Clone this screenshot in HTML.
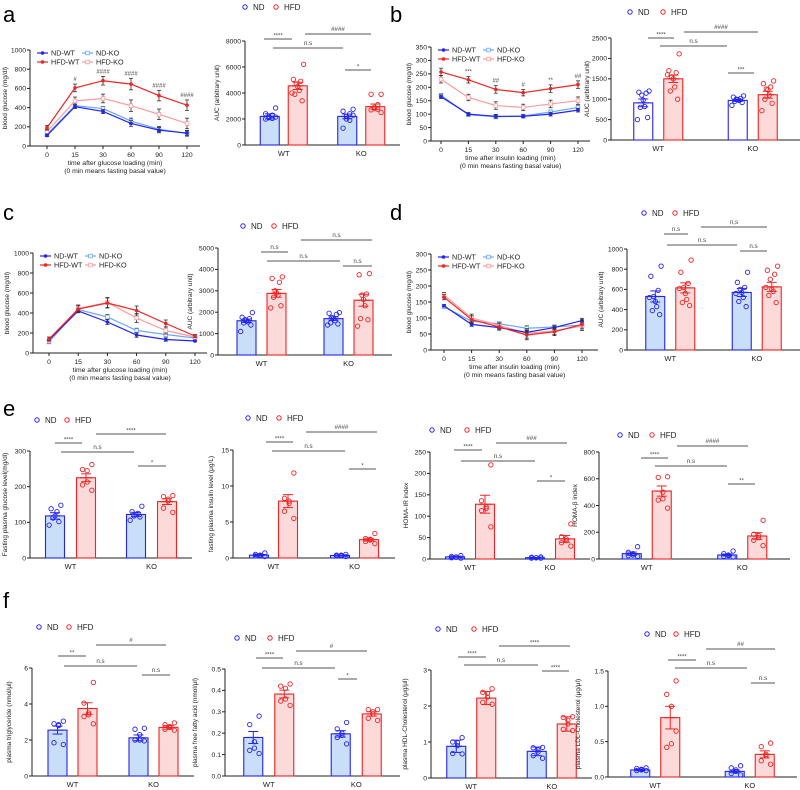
<!DOCTYPE html>
<html><head><meta charset="utf-8">
<style>
html,body{margin:0;padding:0;background:#fff;}
svg{display:block;font-family:"Liberation Sans",Arial,sans-serif;}
</style></head>
<body>
<svg id="fig" width="800" height="790" viewBox="0 0 800 790" xmlns="http://www.w3.org/2000/svg"></svg>
<script>
// ---------- DATA ----------
const timeCats = ["0","15","30","60","90","120"];
const seriesNames = ["ND-WT","ND-KO","HFD-WT","HFD-KO"];
// panel a (GTT)
const aNDWT = [110,410,360,235,165,135];
const aNDKO = [120,420,390,260,175,130];
const aHFDWT = [190,605,680,645,525,425];
const aHFDKO = [150,470,495,420,330,235];
const aErr = [25,40,45,60,55,55];
const aMarks = ["","#","####","####","####","####"];
// panel b (ITT)
const bNDWT = [165,100,92,92,100,115];
const bNDKO = [170,98,90,93,108,125];
const bHFDWT = [257,228,192,180,195,210];
const bHFDKO = [230,162,132,125,138,150];
const bErr = [14,12,14,12,14,14];
const bMarks = ["","***","##","#","**","##"];
// panel c
const cNDWT = [130,420,310,180,135,120];
const cNDKO = [110,435,360,225,185,150];
const cHFDWT = [140,440,500,425,295,170];
const cHFDKO = [120,445,505,350,225,160];
const cErr = [20,35,50,45,35,15];
// panel d
const dNDWT = [138,80,70,55,70,92];
const dNDKO = [135,90,82,68,72,78];
const dHFDWT = [165,95,72,47,57,80];
const dHFDKO = [172,100,77,52,60,75];
const dErr = [8,12,10,15,12,14];

const groups = ["WT","KO"];
const aAucMean = [2200,4550,2200,2950];
const aAucErr = [200,280,180,200];
const aAucDots = [[2850,2400,2300,2200,2100,2050,2000,2150],[6200,5050,4900,4700,4500,4200,3900,3400,4000],[2750,2600,2400,2200,2000,1900,1300,2300],[3900,3900,3100,2900,2800,2750,2700,2500]];
const bAucMean = [910,1500,970,1110];
const bAucErr = [95,90,25,85];
const bAucDots = [[1200,1170,1150,1100,980,820,800,550,500],[2110,1700,1650,1550,1500,1300,1200,1000,1600],[1080,1050,1020,1000,990,970,950,920,850],[1450,1380,1300,1250,1230,1100,1000,900,720]];
const cAucMean = [1600,2880,1700,2560];
const cAucErr = [80,180,80,280];
const cAucDots = [[1980,1760,1700,1650,1600,1550,1500,1400,1100],[3650,3580,3400,3000,2900,2800,2700,2300,2200],[1980,1950,1900,1750,1700,1600,1500,1450,1400],[3800,3750,2850,2800,2600,2300,1700,1650,1350]];
const dAucMean = [530,615,570,625];
const dAucErr = [55,50,40,45];
const dAucDots = [[830,730,590,530,480,430,390,350,520],[890,770,660,620,560,500,470,440,610],[770,670,620,600,570,520,480,430,560],[830,790,750,700,600,580,540,470,620]];
const e1Mean = [118,225,122,158];
const e1Err = [9,11,6,8];
const e1Dots = [[148,138,130,118,112,102,92],[262,248,245,213,205,190],[145,130,125,122,118,115,106],[175,172,165,160,140,128]];
const e2Mean = [0.4,7.9,0.35,2.55];
const e2Err = [0.1,0.9,0.05,0.2];
const e2Dots = [[0.7,0.5,0.4,0.3,0.3,0.2],[11.8,8.3,7.9,7.6,6.5,5.5],[0.5,0.4,0.4,0.3,0.3,0.2],[3.4,2.7,2.6,2.5,2.3,2.0]];
const e3Mean = [5,128,3,47];
const e3Err = [1,21,0.5,8];
const e3Dots = [[8,6,5,4,3,2],[220,136,122,118,113,75],[5,4,3,3,2,2],[82,52,47,43,38,30]];
const e4Mean = [40,508,30,172];
const e4Err = [12,38,7,25];
const e4Dots = [[92,50,40,30,25,20],[615,610,500,450,440,380],[60,40,30,25,20,15],[290,185,175,160,140,100]];
const f1Mean = [2.55,3.75,2.12,2.7];
const f1Err = [0.22,0.32,0.16,0.1];
const f1Dots = [[3.05,2.9,2.85,2.8,1.85,1.75],[5.2,4.05,3.5,3.4,3.3,2.9],[2.65,2.6,2.3,2.0,2.0,1.95],[2.95,2.85,2.75,2.7,2.6,2.55]];
const f2Mean = [0.18,0.383,0.197,0.29];
const f2Err = [0.028,0.018,0.015,0.01];
const f2Dots = [[0.28,0.24,0.16,0.13,0.12,0.105],[0.43,0.42,0.41,0.36,0.35,0.33],[0.25,0.22,0.2,0.19,0.18,0.15],[0.31,0.31,0.3,0.29,0.27,0.26]];
const f3Mean = [0.88,2.22,0.74,1.5];
const f3Err = [0.17,0.18,0.12,0.2];
const f3Dots = [[1.12,1.0,0.98,0.9,0.68,0.67],[2.48,2.38,2.35,2.25,2.1,2.05],[0.85,0.84,0.78,0.72,0.62,0.55],[1.7,1.68,1.6,1.5,1.35,1.32]];
const f4Mean = [0.1,0.84,0.08,0.32];
const f4Err = [0.012,0.16,0.02,0.05];
const f4Dots = [[0.13,0.12,0.11,0.1,0.09,0.09],[1.36,1.17,1.0,0.47,0.42,0.65],[0.16,0.13,0.1,0.08,0.05,0.03],[0.48,0.43,0.32,0.3,0.23,0.18]];

// ---------- DRAWING ----------
const NS="http://www.w3.org/2000/svg";
const svg=document.getElementById('fig');
function el(tag,attrs,parent,txt){const e=document.createElementNS(NS,tag);for(const k in attrs)e.setAttribute(k,attrs[k]);if(txt!==undefined)e.textContent=txt;(parent||svg).appendChild(e);return e;}
const BLUE="#2424f0",RED="#f02424",LBLUE="#6aa8ff",LRED="#ff9a9a",FB="#c9def8",FR="#fddada",GR="#444";

function panelLabel(t,x,y){const e=el('text',{x:x,y:y,'font-size':22,fill:'#000'},svg,t);

}

function yAxis(g,p,title){
  const sc=v=>p.y0-(v/p.ymax)*(p.y0-p.y1);
  const ax=el('line',{x1:p.ax,x2:p.ax,y1:p.y1,y2:p.y0,stroke:'#222','stroke-width':1},g);
  
  
  const xa=el('line',{x1:p.ax,x2:p.axEnd,y1:p.y0,y2:p.y0,stroke:'#222','stroke-width':1},g);
  
  
  p.ticks.forEach(t=>{const y=sc(t);
    el('line',{x1:p.ax-3,x2:p.ax,y1:y,y2:y,stroke:'#222','stroke-width':1},g);
    const tl=el('text',{x:p.ax-4,y:y+2.3,'font-size':6.8,'text-anchor':'end',fill:'#222'},g,p.fmt?p.fmt(t):t);
    
    
  });
  const tx=p.ax-(p.titleOff||24), ty=(p.y0+p.y1)/2;
  const tt=el('text',{x:tx,y:ty,'font-size':6.5,'text-anchor':'middle',fill:'#222',transform:`rotate(-90 ${tx} ${ty})`},g,title);
  
  
  return sc;
}

function linePanel(name,p,series,errs,marks,title,xtitle){
  const g=el('g',{},svg);
  
  
  const sc=yAxis(g,p,title);
  const xs=i=>p.xFirst+i*(p.xLast-p.xFirst)/(timeCats.length-1);
  timeCats.forEach((c,i)=>{el('line',{x1:xs(i),x2:xs(i),y1:p.y0,y2:p.y0+3,stroke:'#222'},g);
    const t=el('text',{x:xs(i),y:p.y0+11,'font-size':6.8,'text-anchor':'middle',fill:'#222'},g,c);
    
    });
  const mid=(p.ax+p.axEnd)/2;
  const xt1=el('text',{x:mid,y:p.y0+19,'font-size':6.8,'text-anchor':'middle',fill:'#222'},g,xtitle);
  
  
  const xt2=el('text',{x:mid,y:p.y0+27,'font-size':6.8,'text-anchor':'middle',fill:'#222'},g,'(0 min means fasting basal value)');
  
  
  const cols=[BLUE,LBLUE,RED,LRED];
  const order=[1,3,0,2];
  order.forEach(si=>{const vals=series[si];const col=cols[si];
    const pts=vals.map((v,i)=>xs(i)+','+sc(v)).join(' ');
    const pl=el('polyline',{points:pts,fill:'none',stroke:col,'stroke-width':1.2},g);
    
    
    vals.forEach((v,i)=>{const e=errs[i]*(si>=2?1:0.5);const x=xs(i),y=sc(v);
      el('line',{x1:x,x2:x,y1:sc(v+e),y2:sc(Math.max(0,v-e)),stroke:'#333','stroke-width':0.8},g);
      el('line',{x1:x-2,x2:x+2,y1:sc(v+e),y2:sc(v+e),stroke:'#333','stroke-width':0.8},g);
      el('line',{x1:x-2,x2:x+2,y1:sc(Math.max(0,v-e)),y2:sc(Math.max(0,v-e)),stroke:'#333','stroke-width':0.8},g);
      let m;
      if(si%2===0){m=el('circle',{cx:x,cy:y,r:1.8,fill:col},g);}
      else{m=el('rect',{x:x-1.8,y:y-1.8,width:3.6,height:3.6,fill:'#fff',stroke:col,'stroke-width':0.8},g);}
      
      
    });
  });
  if(marks){marks.forEach((m,i)=>{if(!m)return;const v=series[2][i]+errs[i];
    const t=el('text',{x:xs(i),y:sc(v)-3,'font-size':6,'text-anchor':'middle',fill:GR},g,m);
    
    });}
  const L=[[0,0,0],[1,1,0],[2,0,1],[3,1,1]];
  L.forEach(([si,c,r])=>{const lx=p.ax+7+c*45, ly=p.y1+3+r*9;
    el('line',{x1:lx,x2:lx+11,y1:ly,y2:ly,stroke:cols[si],'stroke-width':1.2},g);
    if(si%2===0)el('circle',{cx:lx+5.5,cy:ly,r:1.8,fill:cols[si]},g);else el('rect',{x:lx+3.7,y:ly-1.8,width:3.6,height:3.6,fill:'#fff',stroke:cols[si],'stroke-width':0.8},g);
    const t=el('text',{x:lx+14,y:ly+2.5,'font-size':7.2,fill:'#222'},g,seriesNames[si]);
    
    });
}

function barPanel(name,p,means,errs,dots,title,sigs,legend,ndWhite){
  const g=el('g',{},svg);
  
  
  const sc=yAxis(g,p,title);
  const W=p.axEnd-p.ax;
  const gc=gi=>p.ax+W*(0.25+0.5*gi);
  const bx=i=>gc(Math.floor(i/2))+(i%2===0?-1:1)*p.off;
  groups.forEach((gname,gi)=>{
    const t=el('text',{x:gc(gi),y:p.y0+11,'font-size':7.5,'text-anchor':'middle',fill:'#222'},g,gname);
    
    });
  const bw=p.bw||19;
  means.forEach((m,i)=>{const col=i%2?RED:BLUE;const fill=i%2?FR:(ndWhite?'#fff':FB);
    const x=bx(i);
    const r=el('rect',{x:x-bw/2,y:sc(m),width:bw,height:p.y0-sc(m),fill:fill,stroke:col,'stroke-width':1.1},g);
    
    
    dots[i].forEach((v,j)=>{const n=dots[i].length;const dx=(j-(n-1)/2)*(bw-6)/Math.max(1,n-1)*((j%2)?1:-1)*0.9;
      const d=el('circle',{cx:x+dx,cy:sc(v),r:2.2,fill:'none',stroke:col,'stroke-width':0.9},g);
      
      });
    const e=errs[i];
    el('line',{x1:x,x2:x,y1:sc(m+e),y2:sc(Math.max(0,m-e)),stroke:col,'stroke-width':1},g);
    el('line',{x1:x-5,x2:x+5,y1:sc(m+e),y2:sc(m+e),stroke:col,'stroke-width':1},g);
    el('line',{x1:x-5,x2:x+5,y1:sc(Math.max(0,m-e)),y2:sc(Math.max(0,m-e)),stroke:col,'stroke-width':1},g);
    el('line',{x1:x-6,x2:x+6,y1:sc(m),y2:sc(m),stroke:col,'stroke-width':1.1},g);
  });
  sigs.forEach(([x1,x2,y,lab])=>{
    const l=el('line',{x1:x1,x2:x2,y1:y,y2:y,stroke:'#555','stroke-width':0.9},g);
    
    
    const t=el('text',{x:(x1+x2)/2,y:y-(lab.startsWith('*')?1.5:3),'font-size':lab.startsWith('*')?6:6.2,'text-anchor':'middle',fill:GR},g,lab);
    
    });
  const [lx,ly,gap]=legend;
  const c1=el('circle',{cx:lx,cy:ly,r:2.2,fill:'none',stroke:BLUE,'stroke-width':1},g);
  
  const t1=el('text',{x:lx+8,y:ly+3,'font-size':8,fill:'#222'},g,'ND');
  
  const c2=el('circle',{cx:lx+gap,cy:ly,r:2.2,fill:'none',stroke:RED,'stroke-width':1},g);
  
  const t2=el('text',{x:lx+gap+8,y:ly+3,'font-size':8,fill:'#222'},g,'HFD');
  
}

panelLabel('a',3,22);panelLabel('b',390,22);panelLabel('c',3,220);panelLabel('d',390,220);panelLabel('e',3,416);panelLabel('f',3,608);

linePanel('panel-a-gtt',{ax:30,axEnd:200,y0:146,y1:50,ymax:1000,ticks:[0,200,400,600,800,1000],xFirst:47,xLast:187,titleOff:23},[aNDWT,aNDKO,aHFDWT,aHFDKO],aErr,aMarks,'blood glucose (mg/dl)','time after glucose loading (min)');
barPanel('panel-a-auc',{ax:245,axEnd:400,y0:145,y1:41,ymax:8000,ticks:[0,2000,4000,6000,8000],off:14,titleOff:26},aAucMean,aAucErr,aAucDots,'AUC (arbitrary unit)',[[264,292,39,'****'],[305,371,34,'####'],[273,343,48,'n.s'],[345,371,70,'*']],[245,7,31]);
linePanel('panel-b-itt',{ax:431,axEnd:590,y0:141,y1:47,ymax:350,ticks:[0,50,100,150,200,250,300,350],xFirst:441,xLast:578,titleOff:20},[bNDWT,bNDKO,bHFDWT,bHFDKO],bErr,bMarks,'blood glucose (mg/dl)','time after insulin loading (min)');
barPanel('panel-b-auc',{ax:611,axEnd:800,y0:140,y1:38,ymax:2500,ticks:[0,500,1000,1500,2000,2500],off:15,titleOff:22},bAucMean,bAucErr,bAucDots,'AUC (arbitrary unit)',[[648,674,38,'****'],[684,758,32,'####'],[660,727,46,'n.s'],[728,754,73,'***']],[630,12,33],true);
linePanel('panel-c-gtt',{ax:33,axEnd:207,y0:353,y1:253,ymax:1000,ticks:[0,200,400,600,800,1000],xFirst:49,xLast:195,titleOff:24},[cNDWT,cNDKO,cHFDWT,cHFDKO],cErr,null,'blood glucose (mg/dl)','time after glucose loading (min)');
barPanel('panel-c-auc',{ax:218,axEnd:392,y0:355,y1:248,ymax:5000,ticks:[0,1000,2000,3000,4000,5000],off:15,titleOff:26},cAucMean,cAucErr,cAucDots,'AUC (arbitrary unit)',[[261,288,252,'n.s'],[301,372,240,'n.s'],[267,340,261,'n.s'],[343,372,266,'n.s']],[243,226,31]);
linePanel('panel-d-itt',{ax:431,axEnd:598,y0:350,y1:254,ymax:300,ticks:[0,50,100,150,200,250,300],xFirst:444,xLast:582,titleOff:20},[dNDWT,dNDKO,dHFDWT,dHFDKO],dErr,null,'blood glucose (mg/dl)','time after insulin loading (min)');
barPanel('panel-d-auc',{ax:627,axEnd:800,y0:350,y1:249,ymax:1000,ticks:[0,200,400,600,800,1000],off:15,titleOff:24},dAucMean,dAucErr,dAucDots,'AUC (arbitrary unit)',[[664,688,234,'n.s'],[701,767,227,'n,s'],[667,737,245,'n.s'],[740,767,251,'n.s']],[644,213,31]);
barPanel('panel-e-glucose',{ax:30,axEnd:192,y0:558,y1:451,ymax:300,ticks:[0,100,200,300],off:15.5,titleOff:23},e1Mean,e1Err,e1Dots,'Fasting plasma glucose level(mg/dl)',[[55,82,443,'****'],[96,166,434,'****'],[61,134,452,'n.s'],[138,166,466,'*']],[37,420,30]);
barPanel('panel-e-insulin',{ax:233,axEnd:395,y0:558,y1:450,ymax:15,ticks:[0,5,10,15],off:14.5,titleOff:20},e2Mean,e2Err,e2Dots,'fasting plasma insulin level (μg/L)',[[266,293,442,'****'],[306,377,432,'####'],[272,345,451,'n.s'],[349,376,469,'*']],[248,418,31]);
barPanel('panel-e-homa-ir',{ax:430,axEnd:590,y0:559,y1:452,ymax:250,ticks:[0,50,100,150,200,250],off:15,titleOff:22},e3Mean,e3Err,e3Dots,'HOMA-IR index',[[454,482,450,'****'],[496,567,443,'###'],[461,535,461,'n.s'],[537,565,481,'*']],[432,430,35]);
barPanel('panel-e-homa-b',{ax:599,axEnd:790,y0:559,y1:452,ymax:800,ticks:[0,200,400,600,800],off:15,titleOff:22},e4Mean,e4Err,e4Dots,'HOMA-β index',[[641,668,458,'****'],[677,748,446,'####'],[655,727,466,'n.s'],[728,755,484,'**']],[620,435,32]);
barPanel('panel-f-tg',{ax:32,axEnd:194,y0:776,y1:668,ymax:6,ticks:[0,2,4,6],off:15,titleOff:21},f1Mean,f1Err,f1Dots,'plasma triglyceride (nmol/μl)',[[58,86,656,'**'],[96,166,645,'#'],[64,137,666,'n.s'],[142,170,675,'n.s']],[39,627,30]);
barPanel('panel-f-ffa',{ax:225,axEnd:400,y0:776,y1:669,ymax:0.5,ticks:[0,0.1,0.2,0.3,0.4,0.5],fmt:t=>t.toFixed(1),off:15.5,titleOff:28},f2Mean,f2Err,f2Dots,'plasma free fatty acid (nmol/μl)',[[256,283,658,'****'],[296,367,651,'#'],[262,335,668,'n.s'],[338,357,679,'*']],[237,638,33]);
barPanel('panel-f-hdl',{ax:431,axEnd:592,y0:778,y1:670,ymax:3,ticks:[0,1,2,3],off:15,titleOff:24},f3Mean,f3Err,f3Dots,'plasma HDL-Cholesterol (μg/μl)',[[458,486,657,'****'],[499,570,646,'****'],[464,538,665,'n.s'],[542,569,671,'****']],[438,629,36]);
barPanel('panel-f-ldl',{ax:608,axEnd:797,y0:777,y1:671,ymax:1.5,ticks:[0,0.5,1,1.5],fmt:t=>t.toFixed(1),off:15,titleOff:28},f4Mean,f4Err,f4Dots,'plasma LDL-Cholesterol (μg/μl)',[[668,696,660,'****'],[706,775,649,'##'],[675,747,668,'n.s'],[751,775,683,'n.s']],[647,634,29]);
</script>
</body></html>
